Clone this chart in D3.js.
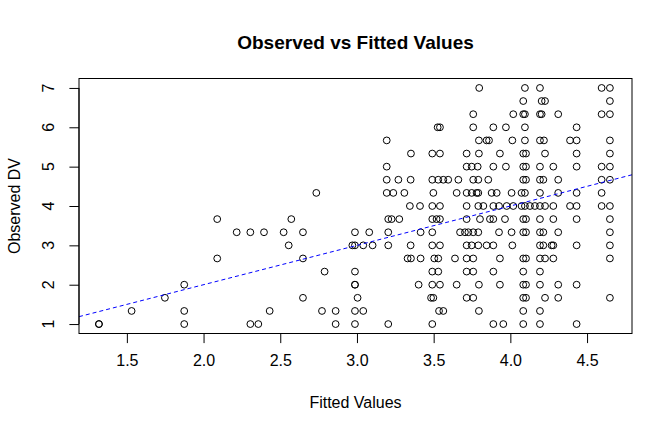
<!DOCTYPE html>
<html>
<head>
<meta charset="utf-8">
<script src="https://cdnjs.cloudflare.com/ajax/libs/d3/7.8.5/d3.min.js"></script>
<style>
  body{margin:0;background:#fff;}
  svg text{font-family:"Liberation Sans",Arial,Helvetica,sans-serif;fill:#000;}
</style>
</head>
<body>
<div id="container"></div>
<script>
var width = 672, height = 432;

// observed DV only takes steps of 1/3, so keep the fitted values per observed level
var obsLevels = [7, 6.667, 6.333, 6, 5.667, 5.333, 5, 4.667, 4.333, 4,
  3.667, 3.333, 3, 2.667, 2.333, 2, 1.667, 1.333, 1];

var fittedByLevel = [
  [3.797, 4.095, 4.193, 4.595, 4.649],
  [4.084, 4.204, 4.226, 4.649],
  [3.758, 4.019, 4.084, 4.095, 4.193, 4.204, 4.312, 4.595, 4.649],
  [3.526, 3.541, 3.758, 3.889, 3.971, 4.095, 4.432],
  [3.194, 3.795, 3.845, 3.861, 4.013, 4.095, 4.193, 4.219, 4.389, 4.432, 4.649],
  [3.352, 3.491, 3.541, 3.715, 3.795, 3.932, 4.084, 4.102, 4.226, 4.432, 4.649],
  [3.194, 3.715, 3.748, 3.787, 3.889, 3.971, 4.084, 4.102, 4.193, 4.28, 4.432, 4.595, 4.649],
  [3.194, 3.27, 3.35, 3.491, 3.53, 3.563, 3.595, 3.661, 3.758, 3.791, 3.856, 4.084, 4.102, 4.193, 4.215, 4.312, 4.595, 4.649],
  [2.735, 3.194, 3.237, 3.309, 3.498, 3.65, 3.715, 3.748, 3.78, 3.791, 3.878, 3.911, 4.008, 4.073, 4.095, 4.193, 4.312, 4.432, 4.595],
  [3.345, 3.411, 3.491, 3.541, 3.715, 3.791, 3.824, 3.889, 3.926, 3.976, 4.019, 4.073, 4.095, 4.128, 4.16, 4.193, 4.226, 4.28, 4.389, 4.432, 4.595, 4.649],
  [2.089, 2.572, 3.204, 3.226, 3.276, 3.491, 3.519, 3.541, 3.715, 3.802, 3.867, 3.889, 3.965, 4.084, 4.102, 4.193, 4.28, 4.432, 4.649],
  [2.216, 2.305, 2.394, 2.522, 2.648, 2.987, 3.08, 3.204, 3.415, 3.491, 3.672, 3.704, 3.726, 3.758, 3.791, 3.926, 4.008, 4.084, 4.102, 4.193, 4.215, 4.312, 4.649],
  [2.555, 2.97, 2.987, 3.041, 3.102, 3.204, 3.35, 3.491, 3.541, 3.715, 3.748, 3.791, 3.845, 3.889, 4.013, 4.193, 4.215, 4.269, 4.28, 4.432, 4.649],
  [2.089, 2.648, 3.33, 3.352, 3.415, 3.504, 3.53, 3.639, 3.715, 3.758, 3.932, 4.084, 4.102, 4.193, 4.226, 4.28, 4.649],
  [2.789, 2.987, 3.491, 3.53, 3.715, 3.758, 3.889, 4.084, 4.193],
  [1.874, 2.987, 2.987, 3.402, 3.491, 3.541, 3.65, 3.795, 3.932, 4.084, 4.102, 4.193, 4.312, 4.432],
  [1.748, 2.648, 3.004, 3.483, 3.498, 3.715, 3.758, 4.084, 4.102, 4.226, 4.312, 4.649],
  [1.531, 1.874, 2.431, 2.772, 2.861, 2.987, 3.041, 3.535, 3.563, 3.795, 4.084, 4.193],
  [1.318, 1.318, 1.874, 2.305, 2.357, 2.861, 2.987, 3.204, 3.491, 3.889, 3.954, 4.084, 4.193, 4.432]
];

var xTicks = [1.5, 2.0, 2.5, 3.0, 3.5, 4.0, 4.5];
var yTicks = [1, 2, 3, 4, 5, 6, 7];
var xLim = [1.188, 4.793], yLim = [0.76, 7.24];
// abline(0, 1)
var refLine = {intercept: 0, slope: 1};

document.addEventListener('DOMContentLoaded', function(){
  var box = {left: 79, right: 632, top: 78.5, bottom: 333.5},
    svg = d3.select("#container").append("svg")
      .attr("width", width).attr("height", height),
    x = d3.scaleLinear().domain(xLim).range([box.left, box.right]),
    y = d3.scaleLinear().domain(yLim).range([box.bottom, box.top]),
    points = [];

  obsLevels.forEach(function(lv, i){
    fittedByLevel[i].forEach(function(f){ points.push({fit: f, obs: lv}); });
  });

  // points first, box on top like R does it
  svg.append("g").selectAll("circle")
    .data(points).enter().append("circle")
    .attr("cx", function(d){ return x(d.fit); })
    .attr("cy", function(d){ return y(d.obs); })
    .attr("r", 3.4)
    .attr("fill", "none")
    .attr("stroke", "#000")
    .attr("stroke-width", 1);

  // dashed reference line, clipped to the plot box
  svg.append("clipPath").attr("id", "clip").append("rect")
    .attr("x", box.left).attr("y", box.top)
    .attr("width", box.right - box.left).attr("height", box.bottom - box.top);
  svg.append("line")
    .attr("clip-path", "url(#clip)")
    .attr("x1", x(xLim[0])).attr("y1", y(refLine.intercept + refLine.slope * xLim[0]))
    .attr("x2", x(xLim[1])).attr("y2", y(refLine.intercept + refLine.slope * xLim[1]))
    .attr("stroke", "#0000ff").attr("stroke-width", 1)
    .attr("stroke-dasharray", "4,3");

  svg.append("rect")
    .attr("x", box.left).attr("y", box.top)
    .attr("width", box.right - box.left).attr("height", box.bottom - box.top)
    .attr("fill", "none").attr("stroke", "#000").attr("stroke-width", 1);

  // x axis
  var gx = svg.append("g").attr("transform", "translate(0," + box.bottom + ")")
    .call(d3.axisBottom(x).tickValues(xTicks).tickFormat(d3.format(".1f"))
      .tickSize(9.6).tickPadding(12));
  gx.select(".domain").remove();
  gx.selectAll("line").attr("stroke", "#000");
  gx.selectAll("text").attr("font-size", 16).attr("fill", "#000")
    .attr("font-family", "Liberation Sans, Arial, sans-serif");
  gx.append("line").attr("x1", x(xTicks[0])).attr("x2", x(xTicks[xTicks.length - 1]))
    .attr("stroke", "#000");

  // y axis, labels turned like R's default las=0
  var gy = svg.append("g").attr("transform", "translate(" + box.left + ",0)")
    .call(d3.axisLeft(y).tickValues(yTicks).tickFormat(d3.format("d")).tickSize(9.6));
  gy.select(".domain").remove();
  gy.selectAll("line").attr("stroke", "#000");
  gy.selectAll("text").remove();
  gy.append("line").attr("y1", y(yTicks[0])).attr("y2", y(yTicks[yTicks.length - 1]))
    .attr("stroke", "#000");
  svg.append("g").selectAll("text")
    .data(yTicks).enter().append("text")
    .attr("transform", function(d){ return "translate(54," + y(d) + ") rotate(-90)"; })
    .attr("text-anchor", "middle")
    .attr("font-size", 16)
    .text(function(d){ return d; });

  svg.append("text")
    .attr("x", (box.left + box.right) / 2).attr("y", 49)
    .attr("text-anchor", "middle")
    .attr("font-size", 19).attr("font-weight", "bold")
    .text("Observed vs Fitted Values");

  svg.append("text")
    .attr("x", (box.left + box.right) / 2).attr("y", 408)
    .attr("text-anchor", "middle")
    .attr("font-size", 16)
    .text("Fitted Values");

  svg.append("text")
    .attr("transform", "translate(20," + (box.top + box.bottom) / 2 + ") rotate(-90)")
    .attr("text-anchor", "middle")
    .attr("font-size", 16)
    .text("Observed DV");
});
</script>
</body>
</html>
